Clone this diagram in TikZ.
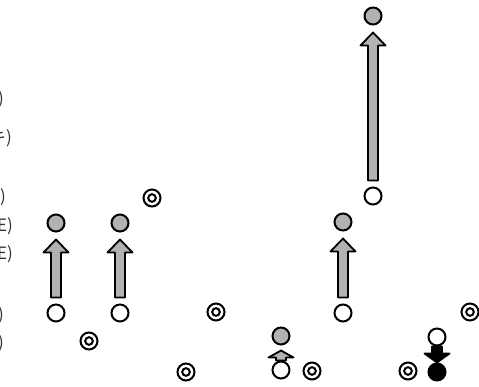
\documentclass[tikz,border=0pt]{standalone}
\usepackage{fontspec}
\newfontfamily\jpfont{Noto Sans CJK JP}
\usetikzlibrary{calc,backgrounds}

% hollow block arrow from tail point to tip point (vertical)
\newcommand{\blockarrow}[4][13pt]{%
  \path[draw=black, fill=#2, line width=1.8pt, line join=round]
    let \p1=(#3), \p2=(#4), \n2={\y2-sign(\y2-\y1)*#1} in
    ({\x1-5pt},\y1) -- ({\x1-5pt},\n2) -- ({\x1-12.5pt},\n2) -- (\x1,\y2)
    -- ({\x1+12.5pt},\n2) -- ({\x1+5pt},\n2) -- ({\x1+5pt},\y1) -- cycle;
}

\begin{document}
\begin{tikzpicture}[x=1pt, y=1pt,
    open/.style={circle, draw, line width=2pt, minimum size=17pt, inner sep=0pt, fill=white},
    full/.style={open, fill=gray!60},
    blackdot/.style={open, fill=black},
    target/.style={open, path picture={\draw[line width=2pt] (path picture bounding box.center) circle (3.8pt);}},
    frag/.style={anchor=east, inner sep=0pt, text=black!80, font=\jpfont\fontsize{17pt}{17pt}\selectfont}
]
\useasboundingbox (0,0) rectangle (479,387);

% label ends cut by the left edge
\foreach \t/\x/\y [count=\k] in {{)}/4/288, {キ)}/12/249, {)}/6/190, {E)}/13/161, {E)}/13/133, {)}/4/72, {)}/4/44}
    \node[frag] (L\k) at (\x,\y) {\t};

% before / after pairs
\foreach \i/\x/\yw/\yg in {1/56/74/164, 2/120/74/164, 3/343/74/165, 4/373/191/371} {
    \node[open] (W\i) at (\x,\yw) {};
    \node[full] (G\i) at (\x,\yg) {};
}
\node[open] (W5) at (281,17) {};
\node[full] (G5) at (281,51) {};
\node[open] (W6) at (437,50) {};
\node[blackdot] (B6) at (437,15) {};

% double rings
\foreach \i/\x/\y in {1/152/189, 2/216/75, 3/470/75, 4/89/46, 5/186/15, 6/312/16, 7/408/16}
    \node[target] (T\i) at (\x,\y) {};

\begin{scope}[on background layer]
\foreach \i in {1,...,4} {
    \blockarrow{gray!60}{$(W\i.north)+(0,6)$}{$(G\i.south)+(0,-7)$}
}
\blockarrow[7pt]{gray!60}{W5.north}{$(G5.south)+(0,-5)$}
\blockarrow[9pt]{black}{W6.south}{B6.north}
\end{scope}
\end{tikzpicture}
\end{document}
